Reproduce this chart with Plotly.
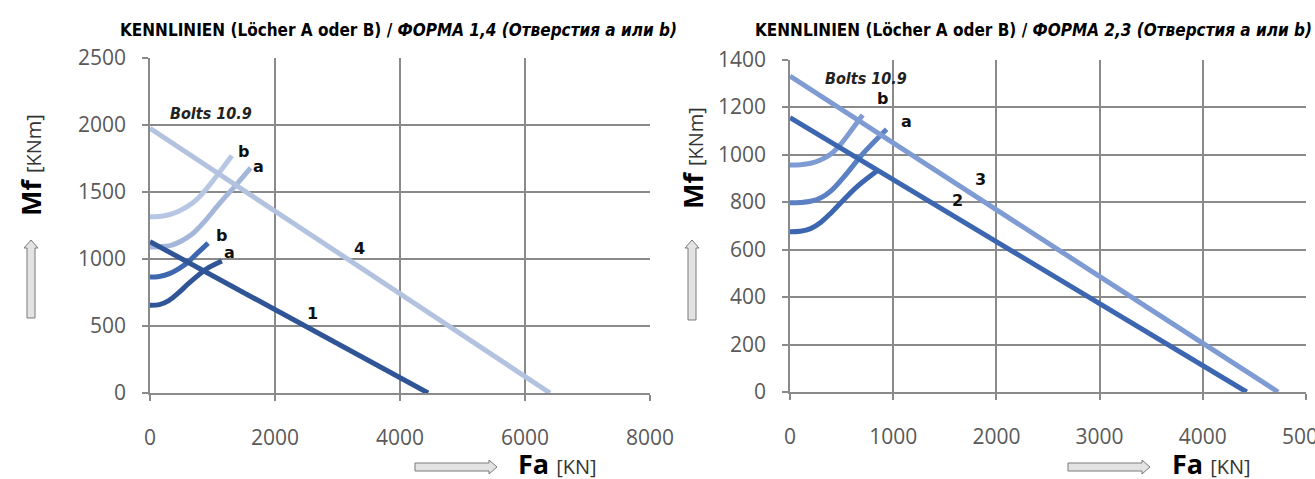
import plotly.graph_objects as go

W, H = 1315, 479

# ---------------- data ----------------
# Left chart (FORM 1,4)
line1_x = [0, 4450]
line1_y = [1130, 0]
line4_x = [0, 6400]
line4_y = [1975, 0]
b_light_x = [0, 150, 300, 450, 600, 750, 900, 1100, 1310]
b_light_y = [1315, 1318, 1330, 1355, 1392, 1445, 1522, 1640, 1770]
a_light_x = [0, 150, 320, 450, 587, 720, 853, 1120, 1400, 1610]
a_light_y = [1090, 1092, 1100, 1122, 1157, 1205, 1269, 1418, 1565, 1680]
b_dark_x = [0, 150, 320, 450, 587, 750, 930]
b_dark_y = [865, 870, 893, 925, 968, 1040, 1118]
a_dark_x = [0, 150, 300, 450, 600, 750, 900, 1150]
a_dark_y = [655, 660, 690, 745, 810, 870, 925, 985]

# Right chart (FORM 2,3)
line3_x = [0, 4730]
line3_y = [1330, 0]
line2_x = [0, 4425]
line2_y = [1155, 0]
top_x = [0, 100, 200, 300, 400, 500, 600, 704]
top_y = [956, 957, 963, 978, 1003, 1048, 1105, 1166]
mid_x = [0, 100, 200, 300, 400, 550, 700, 936]
mid_y = [797, 798, 803, 818, 848, 920, 1000, 1106]
bot_x = [0, 100, 200, 300, 400, 500, 650, 855]
bot_y = [675, 677, 688, 715, 755, 800, 865, 935]

left_xticks = [0, 2000, 4000, 6000, 8000]
left_yticks = [0, 500, 1000, 1500, 2000, 2500]
right_xticks = [0, 1000, 2000, 3000, 4000, 5000]
right_yticks = [0, 200, 400, 600, 800, 1000, 1200, 1400]

title_left = "KENNLINIEN (Löcher A oder B) / <i>ФОРМА 1,4 (Отверстия a или b)</i>"
title_right = "KENNLINIEN (Löcher A oder B) / <i>ФОРМА 2,3 (Отверстия a или b)</i>"

# label positions (data coordinates)
left_labels = [("b", 1490, 1800), ("a", 1740, 1690), ("b", 1136, 1172), ("a", 1264, 1052),
               ("4", 3344, 1082), ("1", 2592, 597)]
right_labels = [("b", 900, 1235), ("a", 1132, 1137), ("3", 1849, 893), ("2", 1626, 808)]

# ---------------- helpers ----------------
def px(v):
    return v / W

def py(v):
    return 1 - v / H

fig = go.Figure()

def add(xs, ys, color, xa, ya, shape="spline"):
    fig.add_trace(go.Scatter(x=xs, y=ys, mode="lines", xaxis=xa, yaxis=ya,
                             line=dict(color=color, width=5, shape=shape, smoothing=1.0),
                             showlegend=False, hoverinfo="skip"))

# left
add(b_light_x, b_light_y, "#b7c7e3", "x", "y")
add(a_light_x, a_light_y, "#a4b7db", "x", "y")
add(b_dark_x, b_dark_y, "#3d68b0", "x", "y")
add(a_dark_x, a_dark_y, "#2f5597", "x", "y")
add(line4_x, line4_y, "#b3c2de", "x", "y", "linear")
add(line1_x, line1_y, "#2f5597", "x", "y", "linear")
# right
add(top_x, top_y, "#7f9bd3", "x2", "y2")
add(mid_x, mid_y, "#5b81c4", "x2", "y2")
add(bot_x, bot_y, "#3c66b0", "x2", "y2")
add(line3_x, line3_y, "#7f9bd3", "x2", "y2", "linear")
add(line2_x, line2_y, "#3c66b0", "x2", "y2", "linear")

grid = "#8a8a8a"
tickfont = dict(family="Open Sans, Liberation Sans, sans-serif", size=21, color="#595959")
common = dict(showgrid=True, gridcolor=grid, gridwidth=1.5, showline=True, linecolor=grid,
              linewidth=1.5, ticks="outside", ticklen=6, tickcolor=grid, tickwidth=1.5,
              zeroline=False, tickfont=tickfont, fixedrange=True, mirror=False,
              automargin=False, ticklabeloverflow="allow")
xcommon = dict(common, ticklabelstandoff=19)
ycommon = dict(common, ticklabelstandoff=12)

fig.update_layout(
    width=W, height=H, margin=dict(l=0, r=0, t=0, b=0, pad=0, autoexpand=False),
    paper_bgcolor="white", plot_bgcolor="white",
    xaxis=dict(domain=[px(150), px(650)], range=[0, 8000], tickvals=left_xticks,
               anchor="y", **xcommon),
    yaxis=dict(domain=[py(393), py(58)], range=[0, 2500], tickvals=left_yticks,
               anchor="x", **ycommon),
    xaxis2=dict(domain=[px(790), px(1306)], range=[0, 5000], tickvals=right_xticks,
                anchor="y2", **xcommon),
    yaxis2=dict(domain=[py(392), py(59.5)], range=[0, 1400], tickvals=right_yticks,
                anchor="x2", **ycommon),
)

CM = dict(xanchor="center", yanchor="middle", showarrow=False)
lab_font = dict(family="DejaVu Sans, sans-serif", size=16, color="#111111")
ann = []
for t, xv, yv in left_labels:
    ann.append(dict(text="<b>%s</b>" % t, x=xv, y=yv, xref="x", yref="y", font=lab_font, **CM))
for t, xv, yv in right_labels:
    ann.append(dict(text="<b>%s</b>" % t, x=xv, y=yv, xref="x2", yref="y2", font=lab_font, **CM))
bolt_font = dict(family="DejaVu Sans Condensed, DejaVu Sans, sans-serif", size=16, color="#222222")
ann.append(dict(text="<b><i>Bolts 10.9</i></b>", x=976, y=2085, xref="x", yref="y",
                font=bolt_font, **CM))
ann.append(dict(text="<b><i>Bolts 10.9</i></b>", x=736, y=1322, xref="x2", yref="y2",
                font=bolt_font, **CM))

title_font = dict(family="DejaVu Sans Condensed, sans-serif", size=17, color="black")
ann.append(dict(text="<b>%s</b>" % title_left, x=px(398), y=py(30), xref="paper", yref="paper",
                font=title_font, **CM))
ann.append(dict(text="<b>%s</b>" % title_right, x=px(1033), y=py(30), xref="paper", yref="paper",
                font=title_font, **CM))

ax_font = dict(family="Open Sans, DejaVu Sans, sans-serif", size=27, color="black")
mf = "<b>Mf</b> <span style='font-size:20px;color:#333'>[KNm]</span>"
fa = "<b>Fa</b> <span style='font-size:20px;color:#333'>[KN]</span>"
ann.append(dict(text=mf, x=px(30), y=py(165), xref="paper", yref="paper", textangle=-90,
                font=ax_font, **CM))
ann.append(dict(text=mf, x=px(692), y=py(158), xref="paper", yref="paper", textangle=-90,
                font=ax_font, **CM))
ann.append(dict(text=fa, x=px(557), y=py(463), xref="paper", yref="paper",
                font=ax_font, **CM))
ann.append(dict(text=fa, x=px(1211), y=py(463), xref="paper", yref="paper",
                font=ax_font, **CM))
fig.update_layout(annotations=ann)

def up_arrow(cx, y0, y1):
    s, hw, hh = 4, 7, 8
    pts = [(cx - s, y1), (cx - s, y0 + hh), (cx - hw, y0 + hh), (cx, y0), (cx + hw, y0 + hh),
           (cx + s, y0 + hh), (cx + s, y1)]
    return "M " + " L ".join("%f,%f" % (px(a), py(b)) for a, b in pts) + " Z"

def right_arrow(x0, x1, cy):
    s, hw, hh = 4, 7, 8
    pts = [(x0, cy - s), (x1 - hh, cy - s), (x1 - hh, cy - hw), (x1, cy), (x1 - hh, cy + hw),
           (x1 - hh, cy + s), (x0, cy + s)]
    return "M " + " L ".join("%f,%f" % (px(a), py(b)) for a, b in pts) + " Z"

arrow_style = dict(type="path", xref="paper", yref="paper", fillcolor="#e3e3e3",
                   line=dict(color="#7a7a7a", width=1))
fig.update_layout(shapes=[
    dict(path=up_arrow(31, 240, 318), **arrow_style),
    dict(path=up_arrow(692, 240, 320), **arrow_style),
    dict(path=right_arrow(415, 497, 467), **arrow_style),
    dict(path=right_arrow(1068, 1150, 467), **arrow_style),
])

fig.write_html("out.html", config={"displayModeBar": False},
               post_script="document.body.style.margin='0px';document.body.style.overflow='hidden';")
